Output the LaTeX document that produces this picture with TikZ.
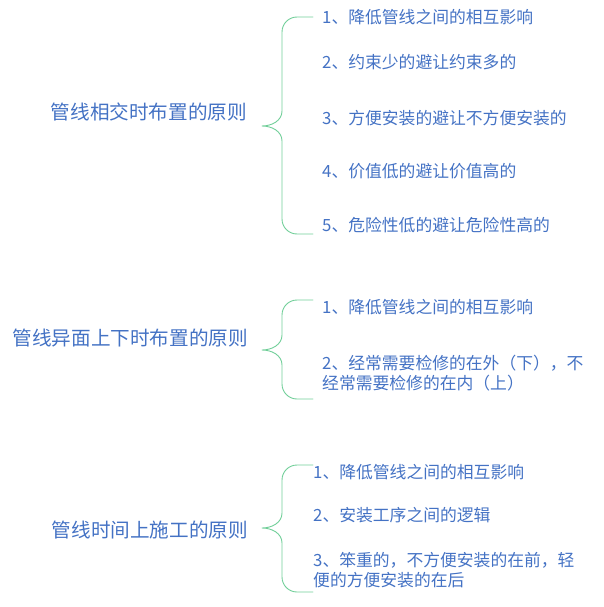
\documentclass[tikz,border=0pt]{standalone}
\usepackage{fontspec}
\setmainfont{Noto Sans CJK SC}
\definecolor{textblue}{RGB}{68,114,196}
\definecolor{bracegreen}{RGB}{112,206,152}

\begin{document}
\begin{tikzpicture}[x=1pt,y=-1pt,line join=round,line cap=round,
					every node/.style={text=textblue,inner sep=0pt},
					root/.style={anchor=east,font=\fontsize{19.6}{23}\selectfont},
					item/.style={anchor=west,align=left,font=\fontsize{16.8}{19.5}\selectfont},
					brace/.style={draw=bracegreen,line width=0.9pt}]
					\useasboundingbox (0,0) rectangle (603,607);
					% tips and ends of the three braces
					\path
					(262,126) coordinate (m1)
					(313,17) coordinate (t1)
					(313,234) coordinate (b1)
					(262,350) coordinate (m2)
					(313,300) coordinate (t2)
					(313,399) coordinate (b2)
					(262,528) coordinate (m3)
					(313,465) coordinate (t3)
					(313,592) coordinate (b3);
					\node[root] (r1) at (247,112) {管线相交时布置的原则};
					\node[root] (r2) at (248,338) {管线异面上下时布置的原则};
					\node[root] (r3) at (248,530) {管线时间上施工的原则};
					\foreach \g in {1,2,3}{
						\draw[brace] (t\g) -- ([xshift=-16pt]t\g) to[out=180,in=90] ([xshift=-31pt,yshift=-15pt]t\g)
						-- ([xshift=20pt,yshift=15pt]m\g) to[out=-90,in=0] (m\g)
						to[out=0,in=90] ([xshift=20pt,yshift=-15pt]m\g)
						-- ([xshift=-31pt,yshift=15pt]b\g) to[out=-90,in=180] ([xshift=-16pt]b\g) -- (b\g);
					}
					\foreach \n/\x/\y/\lab in {
						a1/322/17/{1、降低管线之间的相互影响},
						a2/322/62/{2、约束少的避让约束多的},
						a3/322/118/{3、方便安装的避让不方便安装的},
						a4/322/171/{4、价值低的避让价值高的},
						a5/322/225/{5、危险性低的避让危险性高的},
						b1/322/307/{1、降低管线之间的相互影响},
						c1/313/472/{1、降低管线之间的相互影响},
						c2/313/515/{2、安装工序之间的逻辑}
					}{
						\node[item] (\n) at (\x,\y) {\lab};
					}
					\node[item] (b2) at (322,373) {2、经常需要检修的在外（下），不\\经常需要检修的在内（上）};
					\node[item] (c3) at (313,570) {3、笨重的，不方便安装的在前，轻\\便的方便安装的在后};
				\end{tikzpicture}
\end{document}
